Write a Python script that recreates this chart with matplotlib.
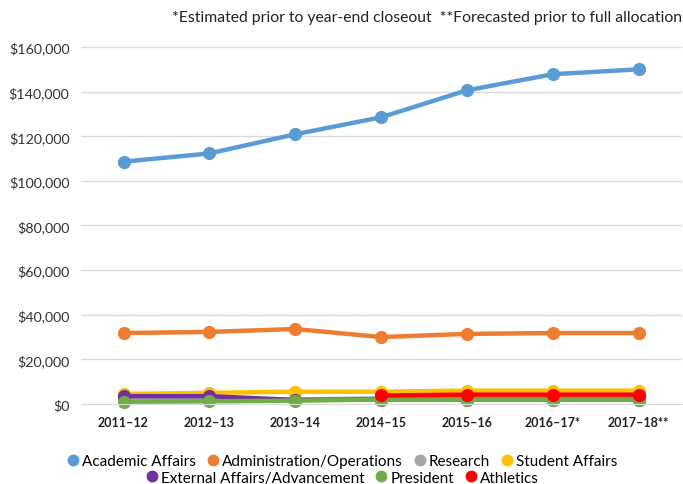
import matplotlib
matplotlib.use("Agg")
import matplotlib.pyplot as plt
from matplotlib.lines import Line2D
import numpy as np

plt.rcParams['font.family'] = ['Lato', 'DejaVu Sans']

years = ["2011–12", "2012–13", "2013–14", "2014–15", "2015–16", "2016–17*", "2017–18**"]
academic = [108600, 112300, 120900, 128500, 140600, 147800, 150000]
admin = [31800, 32300, 33600, 30000, 31400, 31800, 31800]
research = [2000, 2000, 2000, 2500, 2500, 2500, 2500]
student = [4500, 5000, 5500, 5500, 6000, 6000, 6000]
external = [3500, 3500, 1800, 2000, 2000, 2000, 2000]
president = [1000, 1200, 1500, 2000, 2000, 2000, 2000]
athletics = [None, None, None, 3800, 4200, 4200, 4200]

series = [
    ("Academic Affairs", academic, "#5B9BD5"),
    ("Administration/Operations", admin, "#ED7D31"),
    ("Research", research, "#A5A5A5"),
    ("Student Affairs", student, "#FFC000"),
    ("External Affairs/Advancement", external, "#7030A0"),
    ("President", president, "#70AD47"),
    ("Athletics", athletics, "#FF0000"),
]

fig = plt.figure(figsize=(6.83, 4.85), dpi=100)
ax = fig.add_axes([0.118, 0.165, 0.880, 0.736])

x = np.arange(len(years))
handles = []
for name, vals, col in series:
    v = np.array([np.nan if a is None else a for a in vals], dtype=float)
    ax.plot(x, v, color=col, lw=3.2, marker='o', ms=8.5, clip_on=False, solid_capstyle='round')
    handles.append(Line2D([], [], color=col, marker='o', ls='none', ms=7.5))

ax.set_xlim(-0.5, len(years) - 0.5)
ax.set_ylim(0, 160000)
ax.set_yticks(np.arange(0, 160001, 20000))
ax.set_yticklabels([f"${v:,.0f}" for v in np.arange(0, 160001, 20000)], fontsize=10.3, color="#333333")
ax.set_xticks(x)
ax.set_xticklabels(years, fontsize=9, fontweight='bold', color="#222222")
ax.tick_params(axis='x', length=0, pad=9)
ax.tick_params(axis='y', length=0, pad=8)
ax.grid(axis='y', color="#D9D9D9", lw=1)
ax.set_axisbelow(True)
for s in ['top', 'right', 'left']:
    ax.spines[s].set_visible(False)
ax.spines['bottom'].set_color("#D9D9D9")

fig.text(0.998, 0.963, "*Estimated prior to year-end closeout  **Forecasted prior to full allocation",
         ha='right', va='center', fontsize=11.3, color="#222222")

leg1 = fig.legend(handles[:4], [s[0] for s in series[:4]], loc='center', bbox_to_anchor=(0.5, 0.047),
                  ncol=4, frameon=False, fontsize=11, handletextpad=0.1, columnspacing=0.6, handlelength=1.0)
leg2 = fig.legend(handles[4:], [s[0] for s in series[4:]], loc='center', bbox_to_anchor=(0.5, 0.013),
                  ncol=3, frameon=False, fontsize=11, handletextpad=0.1, columnspacing=0.6, handlelength=1.0)

fig.savefig("out.png", dpi=100)
